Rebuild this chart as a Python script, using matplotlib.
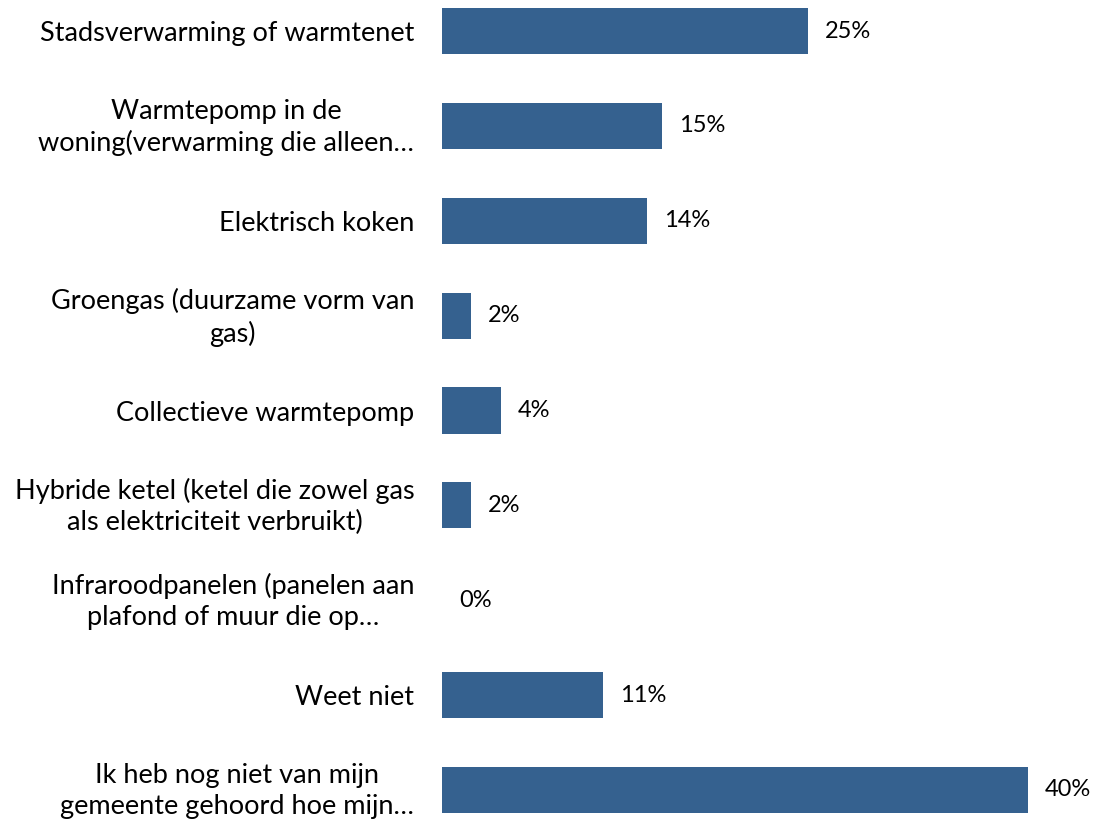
import matplotlib
matplotlib.use("Agg")
import matplotlib.pyplot as plt
import matplotlib.transforms as mtransforms

categories = [
    "Stadsverwarming of warmtenet",
    "Warmtepomp in de\nwoning(verwarming die alleen…",
    "Elektrisch koken",
    "Groengas (duurzame vorm van\ngas)",
    "Collectieve warmtepomp",
    "Hybride ketel (ketel die zowel gas\nals elektriciteit verbruikt)",
    "Infraroodpanelen (panelen aan\nplafond of muur die op…",
    "Weet niet",
    "Ik heb nog niet van mijn\ngemeente gehoord hoe mijn…",
]
values = [25, 15, 14, 2, 4, 2, 0, 11, 40]
value_labels = ["25%", "15%", "14%", "2%", "4%", "2%", "0%", "11%", "40%"]

W, H = 1094, 821
fig = plt.figure(figsize=(W / 100, H / 100), dpi=100)
left = 442 / W
ax = fig.add_axes([left, 0, 1 - left, 1])
plt.rcParams['font.family'] = ['Lato', 'DejaVu Sans']
FS = 19.5
FS_VAL = 17

pos = list(range(len(categories)))
ax.barh(pos, values, height=0.485, color="#35618F")
ax.set_ylim(8.327, -0.327)
ax.set_xlim(0, (W - 442) / 14.65)
for s in ax.spines.values():
    s.set_visible(False)
ax.set_xticks([])
ax.set_yticks(pos)
ax.set_yticklabels(categories, fontsize=FS, family=['Lato', 'DejaVu Sans'],
                   multialignment='center', linespacing=1.3)
ax.tick_params(axis='y', length=0, pad=20)
up = mtransforms.ScaledTranslation(0, 4 / 100, fig.dpi_scale_trans)
for t in ax.get_yticklabels():
    if "\n" in t.get_text():
        t.set_transform(t.get_transform() + up)

for p, v, lab in zip(pos, values, value_labels):
    ax.annotate(lab, (v, p), xytext=(17, 0), textcoords='offset pixels',
                va='center', ha='left', fontsize=FS_VAL, family=['Lato', 'DejaVu Sans'])

fig.savefig("out.png", dpi=100)
